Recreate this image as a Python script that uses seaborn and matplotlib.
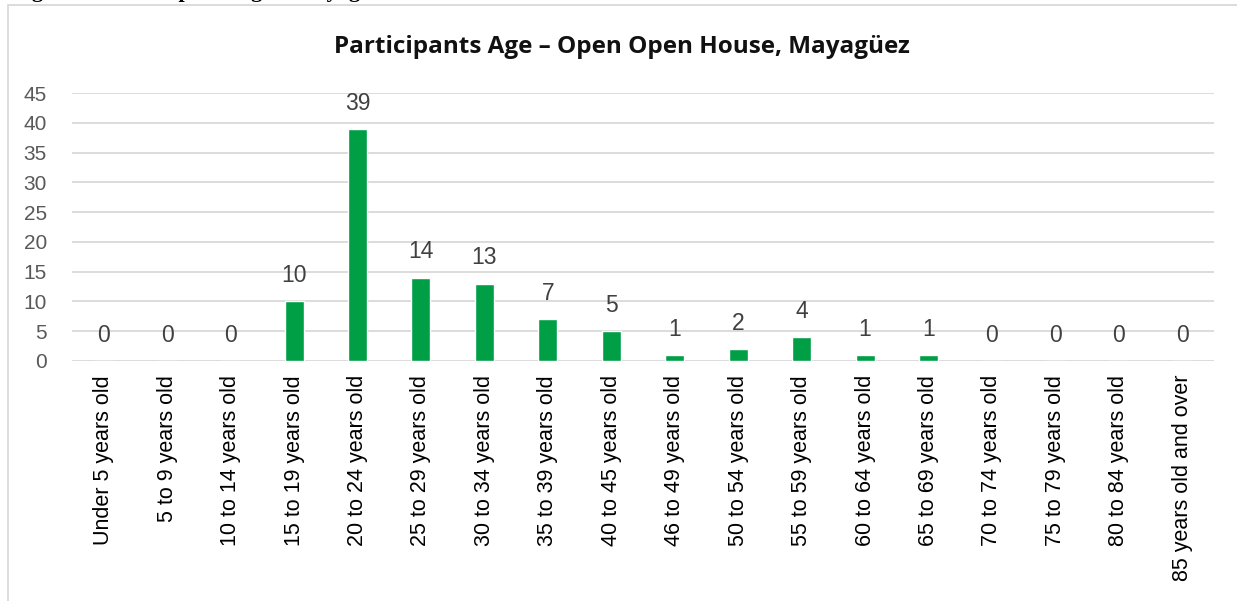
import matplotlib
matplotlib.use("Agg")
import matplotlib.pyplot as plt
import seaborn as sns
import pandas as pd
from matplotlib.patches import Rectangle

categories = [
    "Under 5 years old", "5 to 9 years old", "10 to 14 years old", "15 to 19 years old",
    "20 to 24 years old", "25 to 29 years old", "30 to 34 years old", "35 to 39 years old",
    "40 to 45 years old", "46 to 49 years old", "50 to 54 years old", "55 to 59 years old",
    "60 to 64 years old", "65 to 69 years old", "70 to 74 years old", "75 to 79 years old",
    "80 to 84 years old", "85 years old and over",
]
participants = [0, 0, 0, 10, 39, 14, 13, 7, 5, 1, 2, 4, 1, 1, 0, 0, 0, 0]
y_ticks = [0, 5, 10, 15, 20, 25, 30, 35, 40, 45]

title = "Participants Age \u2013 Open Open House, Mayagüez"
caption = "Figure 10. Participants Age \u2013 Mayagüez"

df = pd.DataFrame({"age": categories, "count": participants})

sns.set_theme(style="white")
plt.rcParams["font.family"] = ["Liberation Sans", "DejaVu Sans"]

W, H = 1237, 601
fig = plt.figure(figsize=(W / 100, H / 100), dpi=100)
ax = fig.add_axes([72 / W, 1 - 361 / H, (1214 - 72) / W, (361 - 93) / H])

sns.barplot(data=df, x="age", y="count", color="#009E45", saturation=1,
            width=0.3, ax=ax, zorder=3)

ax.set_ylim(0, 45)
ax.set_xlim(-0.5, len(categories) - 0.5)
ax.set_yticks(y_ticks)
ax.yaxis.grid(True, color="#D9D9D9", linewidth=1.3, zorder=0)
ax.set_axisbelow(True)
for s in ax.spines.values():
    s.set_visible(False)
ax.set_xlabel("")
ax.set_ylabel("")
ax.tick_params(axis="y", length=0, pad=18, labelsize=15, labelcolor="#595959")
ax.tick_params(axis="x", length=0, pad=10, labelsize=15.5, labelcolor="#000000")
plt.setp(ax.get_xticklabels(), rotation=90, va="top", ha="center")

for i, v in enumerate(participants):
    ax.annotate(str(v), (i, v), xytext=(0, 18.5), textcoords="offset points",
                ha="center", va="center", fontsize=16.5, color="#404040")

fig.text(0.5 + 3 / W, 1 - 47 / H, title, ha="center", va="center",
         fontsize=17.5, fontweight="bold", color="#111111",
         family=["Open Sans", "DejaVu Sans"])

# caption line above the chart box, running off the top of the page
fig.text(12 / W, 1 + 3 / H, caption, ha="left", va="baseline",
         fontsize=16, fontweight="bold", color="black",
         family=["Liberation Serif", "DejaVu Serif"])

fig.patches.append(Rectangle((8 / W, -0.1), 1.2, 1 - 5 / H + 0.1,
                             transform=fig.transFigure, fill=False,
                             edgecolor="#D9D9D9", linewidth=1.3))

fig.savefig("out.png", dpi=100, facecolor="white")
